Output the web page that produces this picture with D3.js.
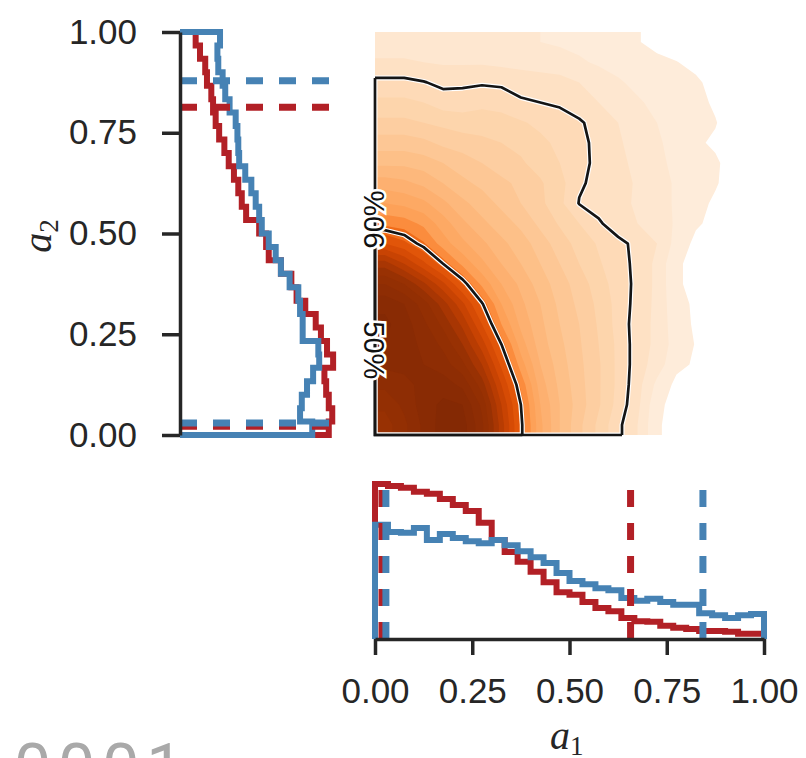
<!DOCTYPE html>
<html><head><meta charset="utf-8">
<script src="https://cdn.jsdelivr.net/npm/d3@7"></script>
<style>
body{margin:0;background:#fff;}
svg{display:block;}
</style></head><body>
<svg id="c" width="806" height="758"></svg>
<script>
// ---------------- data ----------------
// histogram densities, 30 equal bins on [0,1]
const a1Red  = [2.35,2.32,2.29,2.23,2.20,2.12,2.03,1.94,1.76,1.50,1.32,1.17,1.02,0.86,0.71,0.67,0.56,0.47,0.42,0.32,0.27,0.26,0.20,0.17,0.15,0.12,0.12,0.11,0.08,0.08];
const a1Blue = [1.73,1.62,1.61,1.68,1.50,1.59,1.53,1.48,1.45,1.50,1.42,1.33,1.24,1.15,1.00,0.88,0.83,0.77,0.74,0.62,0.58,0.61,0.56,0.52,0.52,0.39,0.36,0.32,0.36,0.38];
const a2Red  = [1.71,1.75,1.71,1.68,1.66,1.76,1.69,1.62,1.56,1.44,1.34,1.28,1.16,1.02,0.99,0.91,0.76,0.71,0.67,0.62,0.56,0.51,0.45,0.41,0.38,0.36,0.31,0.29,0.23,0.18];
const a2Blue = [1.52,1.38,1.40,1.46,1.53,1.60,1.59,1.41,1.41,1.38,1.36,1.26,1.16,1.10,1.02,0.94,0.91,0.87,0.82,0.75,0.68,0.67,0.66,0.64,0.57,0.52,0.49,0.44,0.43,0.46];
// credible-interval bounds (dashed lines)
const a1RedCI  = [0.018, 0.657];
const a1BlueCI = [0.028, 0.843];
const a2RedCI  = [0.022, 0.813];
const a2BlueCI = [0.030, 0.879];
// tick values / labels
const tickValues = [0, 0.25, 0.5, 0.75, 1.0];
const tickLabels = ["0.00", "0.25", "0.50", "0.75", "1.00"];
// joint density of (a1, a2): 20x20 cells, rows from a2 = 1 (top) down to a2 = 0
const kdeGrid = [
 [0.10,0.10,0.095,0.09,0.09,0.09,0.085,0.085,0.08,0.075,0.07,0.06,0.05,0.042,0.03,0.025,0.02,0.015,0.01,0.005],
 [0.125,0.125,0.12,0.115,0.115,0.115,0.11,0.105,0.10,0.095,0.085,0.075,0.065,0.055,0.048,0.041,0.032,0.02,0.01,0.005],
 [0.17,0.17,0.162,0.15,0.152,0.155,0.152,0.145,0.14,0.135,0.12,0.10,0.085,0.07,0.06,0.052,0.045,0.03,0.015,0.005],
 [0.21,0.21,0.20,0.18,0.18,0.19,0.185,0.165,0.16,0.155,0.14,0.12,0.10,0.085,0.07,0.06,0.05,0.035,0.02,0.005],
 [0.25,0.25,0.24,0.23,0.22,0.22,0.215,0.205,0.19,0.175,0.165,0.145,0.12,0.10,0.08,0.065,0.05,0.042,0.02,0.005],
 [0.30,0.30,0.29,0.27,0.26,0.25,0.24,0.23,0.21,0.19,0.17,0.15,0.125,0.105,0.085,0.068,0.045,0.035,0.02,0.005],
 [0.35,0.35,0.34,0.32,0.30,0.28,0.26,0.245,0.225,0.20,0.172,0.15,0.13,0.11,0.09,0.07,0.055,0.045,0.025,0.005],
 [0.42,0.41,0.39,0.36,0.33,0.31,0.29,0.27,0.245,0.215,0.165,0.15,0.135,0.115,0.095,0.075,0.055,0.043,0.025,0.005],
 [0.48,0.47,0.45,0.41,0.37,0.34,0.31,0.28,0.25,0.21,0.158,0.145,0.13,0.115,0.095,0.075,0.05,0.035,0.02,0.005],
 [0.55,0.54,0.51,0.46,0.41,0.37,0.34,0.31,0.27,0.235,0.20,0.165,0.14,0.12,0.10,0.075,0.045,0.03,0.015,0.005],
 [0.64,0.61,0.565,0.50,0.45,0.41,0.37,0.34,0.30,0.26,0.225,0.195,0.17,0.15,0.12,0.065,0.03,0.02,0.01,0.005],
 [0.78,0.72,0.65,0.58,0.51,0.45,0.40,0.36,0.32,0.28,0.24,0.205,0.175,0.15,0.11,0.045,0.03,0.02,0.01,0.005],
 [0.88,0.84,0.77,0.69,0.60,0.51,0.44,0.39,0.34,0.30,0.26,0.22,0.18,0.15,0.11,0.045,0.03,0.02,0.01,0.005],
 [0.95,0.92,0.86,0.78,0.69,0.585,0.48,0.41,0.36,0.31,0.27,0.23,0.185,0.145,0.11,0.05,0.035,0.02,0.01,0.005],
 [0.97,0.94,0.89,0.83,0.75,0.64,0.52,0.43,0.37,0.32,0.28,0.235,0.185,0.14,0.11,0.055,0.035,0.02,0.01,0.005],
 [0.96,0.94,0.91,0.87,0.80,0.70,0.58,0.46,0.38,0.33,0.285,0.24,0.19,0.14,0.11,0.06,0.038,0.02,0.01,0.005],
 [0.93,0.93,0.92,0.90,0.85,0.76,0.63,0.50,0.40,0.34,0.29,0.245,0.19,0.14,0.10,0.05,0.035,0.02,0.01,0.005],
 [0.89,0.91,0.93,0.94,0.91,0.82,0.68,0.55,0.42,0.35,0.295,0.245,0.19,0.135,0.07,0.03,0.025,0.015,0.01,0.005],
 [0.85,0.89,0.94,0.97,0.96,0.87,0.72,0.58,0.44,0.36,0.30,0.245,0.185,0.13,0.05,0.025,0.02,0.01,0.005,0.0],
 [0.82,0.87,0.93,0.98,0.98,0.89,0.74,0.59,0.45,0.36,0.29,0.23,0.17,0.12,0.045,0.025,0.015,0.01,0.005,0.0]
];
const hpdLevels = [0.16, 0.58];
const hpdLabels = ["90%", "50%"];

// ---------------- styling / layout ----------------
const RED = "#b22026", BLUE = "#4682b4", INK = "#262626";
const FONT = "'Liberation Sans', Arial, Helvetica, sans-serif";
const svg = d3.select("#c");
const defs = svg.append("defs");

const xMain = d3.scaleLinear([0, 1], [375, 764]);
const yMain = d3.scaleLinear([0, 1], [435, 32]);
const xDens = d3.scaleLinear([0, 1], [180, 267]);   // left marginal density axis
const yDens = d3.scaleLinear([0, 1], [639, 573]);   // bottom marginal density axis
const dashReachLeft = 1.72, dashReachBottom = 2.26;
const colorT = d3.scaleLinear().domain([0, 0.16, 0.5, 0.58, 0.8, 1])
  .range([0.03, 0.19, 0.44, 0.68, 0.92, 1]).clamp(true);

// ---------------- joint KDE ----------------
const nRows = kdeGrid.length, nCols = kdeGrid[0].length;
// replicate the border cells once so that contours run straight to the clipped frame
const clampIdx = (k, n) => Math.max(0, Math.min(n - 1, k));
const padded = [];
for (let j = -1; j <= nRows; j++)
  for (let i = -1; i <= nCols; i++)
    padded.push(kdeGrid[clampIdx(j, nRows)][clampIdx(i, nCols)]);
const PW = nCols + 2, PH = nRows + 2;
const proj = d3.geoTransform({
  point(x, y) { this.stream.point(xMain((x - 1) / nCols), yMain(1 - (y - 1) / nRows)); }
});
const gpath = d3.geoPath(proj);
const frame = {x0: xMain(0), x1: xMain(1), y0: yMain(1), y1: yMain(0)};
defs.append("clipPath").attr("id", "frameClip").append("rect")
  .attr("x", frame.x0).attr("y", frame.y0)
  .attr("width", frame.x1 - frame.x0).attr("height", frame.y1 - frame.y0);

const gMain = svg.append("g");
gMain.append("g").attr("clip-path", "url(#frameClip)")
  .selectAll("path.band")
  .data(d3.contours().size([PW, PH]).thresholds(d3.range(0.04, 1.0, 0.04))(padded))
  .join("path").attr("class", "band")
  .attr("d", gpath)
  .attr("fill", d => d3.interpolateOranges(colorT(d.value)))
  .attr("stroke", "none");

const cgen = d3.contours().size([PW, PH]);
const framePath = `M${frame.x0},${frame.y0}H${frame.x1}V${frame.y1}H${frame.x0}Z`;
const hpdPaths = hpdLevels.map(lv => gpath(cgen.contour(padded, lv)));
hpdPaths.forEach((p, k) => {
  defs.append("clipPath").attr("id", "hpd" + k).append("path").attr("d", p);
});
[["#fff", 5], ["#151515", 2.7]].forEach(([col, w]) => {
  hpdPaths.forEach((p, k) => {
    gMain.append("path").attr("d", p).attr("clip-path", "url(#frameClip)")
      .attr("fill", "none").attr("stroke", col).attr("stroke-width", w).attr("stroke-linejoin", "round");
    gMain.append("path").attr("d", framePath).attr("clip-path", `url(#hpd${k})`)
      .attr("fill", "none").attr("stroke", col).attr("stroke-width", w);
  });
});
// contour labels on the left edge
const labelPos = [{a2: 0.535, rot: -90}, {a2: 0.21, rot: 90}];
hpdLabels.forEach((t, i) => {
  gMain.append("text")
    .attr("transform", `translate(${xMain(0) - 1},${yMain(labelPos[i].a2)}) rotate(${labelPos[i].rot})`)
    .attr("text-anchor", "middle").attr("dy", "0.36em")
    .attr("font-family", FONT).attr("font-size", 29).attr("fill", "#111")
    .attr("stroke", "#fff").attr("stroke-width", 5).attr("paint-order", "stroke")
    .text(t);
});

// ---------------- marginal histograms ----------------
const nB = a1Red.length;
function bottomStep(vals) {
  const pts = [[xMain(0), yDens(0)]];
  vals.forEach((v, i) => { pts.push([xMain(i / nB), yDens(v)]); pts.push([xMain((i + 1) / nB), yDens(v)]); });
  pts.push([xMain(1), yDens(0)]);
  return d3.line()(pts);
}
function leftStep(vals) {
  const pts = [[xDens(0), yMain(0)]];
  vals.forEach((v, i) => { pts.push([xDens(v), yMain(i / nB)]); pts.push([xDens(v), yMain((i + 1) / nB)]); });
  pts.push([xDens(0), yMain(1)]);
  return d3.line()(pts);
}
const gHist = svg.append("g").attr("fill", "none").attr("stroke-width", 6).attr("stroke-linejoin", "miter");
gHist.append("path").attr("d", bottomStep(a1Red)).attr("stroke", RED);
gHist.append("path").attr("d", bottomStep(a1Blue)).attr("stroke", BLUE);
gHist.append("path").attr("d", leftStep(a2Red)).attr("stroke", RED);
gHist.append("path").attr("d", leftStep(a2Blue)).attr("stroke", BLUE);

// dashed credible bounds
const gDash = svg.append("g").attr("stroke-width", 7).attr("stroke-dasharray", "17,16");
[[a1RedCI, RED], [a1BlueCI, BLUE]].forEach(([ci, col]) => ci.forEach(q => {
  gDash.append("line").attr("x1", xMain(q)).attr("x2", xMain(q))
    .attr("y1", yDens(0)).attr("y2", yDens(dashReachBottom)).attr("stroke", col);
}));
[[a2RedCI, RED], [a2BlueCI, BLUE]].forEach(([ci, col]) => ci.forEach(q => {
  gDash.append("line").attr("y1", yMain(q)).attr("y2", yMain(q))
    .attr("x1", xDens(0)).attr("x2", xDens(dashReachLeft)).attr("stroke", col);
}));

// ---------------- axes ----------------
function styleAxis(g) {
  g.select(".domain").attr("stroke", INK).attr("stroke-width", 3.5);
  g.selectAll(".tick line").attr("stroke", INK).attr("stroke-width", 3.5);
  g.selectAll(".tick text").attr("fill", INK).attr("font-family", FONT).attr("font-size", 35);
}
const fmt = d => tickLabels[tickValues.indexOf(d)];
svg.append("g").attr("transform", "translate(180,0)")
  .call(d3.axisLeft(yMain).tickValues(tickValues).tickFormat(fmt).tickSize(18).tickSizeOuter(0).tickPadding(25))
  .call(styleAxis);
svg.append("g").attr("transform", "translate(0,639)")
  .call(d3.axisBottom(xMain).tickValues(tickValues).tickFormat(fmt).tickSize(16).tickSizeOuter(0).tickPadding(23))
  .call(styleAxis);

// axis labels (math style)
const MATH = "'Liberation Serif', 'DejaVu Serif', serif";
const yl = svg.append("text").attr("transform", "translate(51,236) rotate(-90)")
  .attr("text-anchor", "middle").attr("font-family", MATH).attr("fill", INK);
yl.append("tspan").attr("font-style", "italic").attr("font-size", 40).text("a");
yl.append("tspan").attr("font-size", 27).attr("dy", 7).text("2");
const xl = svg.append("text").attr("x", 550).attr("y", 749)
  .attr("font-family", MATH).attr("fill", INK);
xl.append("tspan").attr("font-style", "italic").attr("font-size", 40).text("a");
xl.append("tspan").attr("font-size", 27).attr("dy", 6).text("1");

// clipped grey text at the bottom-left
svg.append("text").attr("x", 14).attr("y", 791)
  .attr("font-family", "Roboto, 'Noto Sans', sans-serif").attr("font-weight", 400)
  .attr("font-size", 66).attr("letter-spacing", 7).attr("fill", "#a9a9a9")
  .text("0001");
</script>
</body></html>
